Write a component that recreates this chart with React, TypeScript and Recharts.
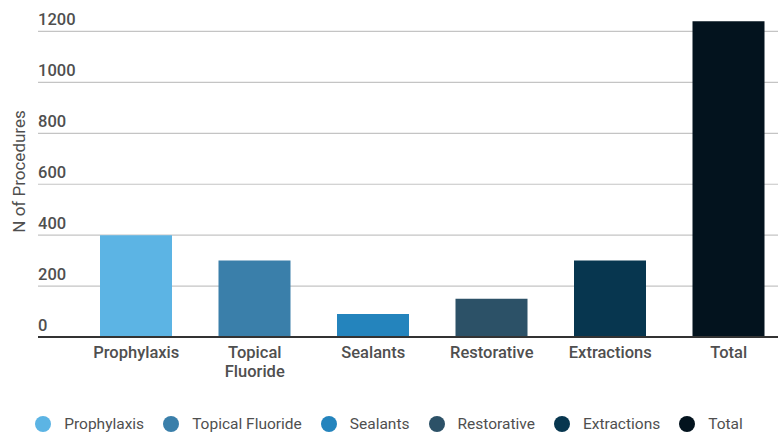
import { BarChart, Bar, Cell, XAxis, YAxis, CartesianGrid, Legend, Label } from "recharts";

const categories = ["Prophylaxis", "Topical Fluoride", "Sealants", "Restorative", "Extractions", "Total"];
const procedures = [400, 300, 90, 150, 300, 1240];
const yTicks = [0, 200, 400, 600, 800, 1000, 1200];

const COLORS = ["#5cb4e4", "#3a7faa", "#2484bd", "#2c5167", "#07364f", "#03131e"];

const FONT = "Roboto, 'Noto Sans', sans-serif";
const TEXT = "#4f4f4f";
const AXIS_W = 38;

const data = categories.map((name, i) => ({ name, value: procedures[i] }));

const YTick = ({ y, payload }: any) => (
  <text x={AXIS_W} y={y - 6} textAnchor="start" fill={TEXT} fontSize={16.5} fontWeight={500} fontFamily={FONT}>
    {payload.value}
  </text>
);

// multi-word names go on separate lines
const XTick = ({ x, y, payload }: any) => {
  const words = String(payload.value).split(" ");
  return (
    <text x={x} y={y + 21} textAnchor="middle" fill={TEXT} fontSize={16.5} fontWeight={500} fontFamily={FONT}>
      {words.map((w, i) => (
        <tspan key={i} x={x} dy={i === 0 ? 0 : 19}>
          {w}
        </tspan>
      ))}
    </text>
  );
};

const AxisTitle = ({ viewBox }: any) => {
  const cx = viewBox.x + 19;
  const cy = viewBox.y + viewBox.height / 2;
  return (
    <text
      x={cx}
      y={cy}
      transform={`rotate(-90 ${cx} ${cy})`}
      textAnchor="middle"
      dominantBaseline="central"
      fill={TEXT}
      fontSize={17}
      fontFamily={FONT}
    >
      N of Procedures
    </text>
  );
};

const renderLegend = () => (
  <div
    style={{
      display: "flex",
      justifyContent: "center",
      alignItems: "center",
      height: 24,
      paddingRight: 10,
      fontFamily: FONT,
      fontSize: 15.5,
      color: TEXT,
    }}
  >
    {categories.map((name, i) => (
      <div key={name} style={{ display: "flex", alignItems: "center", marginLeft: i === 0 ? 0 : 19 }}>
        <span
          style={{
            width: 16,
            height: 16,
            borderRadius: "50%",
            background: COLORS[i],
            marginRight: 13,
            display: "inline-block",
          }}
        />
        <span>{name}</span>
      </div>
    ))}
  </div>
);

export default function App() {
  return (
    <div style={{ position: "absolute", left: 0, top: 0, width: 778, height: 436, overflow: "hidden", background: "#fff" }}>
      <BarChart width={788} height={436} data={data} margin={{ top: 6, right: 0, bottom: 0, left: 0 }}>
        {/* grid rows only at the labelled values */}
        <CartesianGrid vertical={false} stroke="#c4c4c4" strokeWidth={1.2} horizontalValues={yTicks} />
        <YAxis
          width={AXIS_W}
          domain={[0, 1300]}
          ticks={yTicks}
          axisLine={false}
          tickLine={false}
          tick={<YTick />}
        >
          <Label content={<AxisTitle />} />
        </YAxis>
        <XAxis
          dataKey="name"
          height={75}
          padding={{ left: 39, right: 0 }}
          axisLine={{ stroke: "#333", strokeWidth: 2 }}
          tickLine={false}
          tickSize={0}
          tickMargin={0}
          interval={0}
          tick={<XTick />}
        />
        <Legend verticalAlign="bottom" height={24} content={renderLegend} />
        <Bar dataKey="value" barSize={72} isAnimationActive={false}>
          {data.map((_, i) => (
            <Cell key={i} fill={COLORS[i]} />
          ))}
        </Bar>
      </BarChart>
    </div>
  );
}
